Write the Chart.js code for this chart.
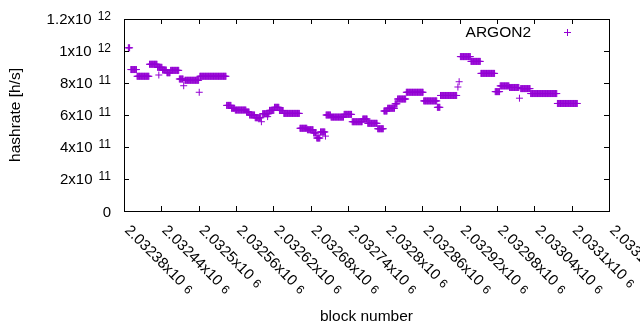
<!DOCTYPE html>
<html>
<head>
<meta charset="utf-8">
<script src="https://cdn.jsdelivr.net/npm/chart.js@4.4.1/dist/chart.umd.min.js"></script>
<style>
  html, body { margin: 0; padding: 0; background: #fff; }
  #wrap { width: 640px; height: 330px; }
</style>
</head>
<body>
<div id="wrap"><canvas id="hashChart" width="640" height="330"></canvas></div>
<script>
// runs of blocks with the same hashrate estimate (one point per block)
const runStart = [
  2032387, 2032391, 2032401, 2032421, 2032434, 2032436, 2032442, 2032449, 2032455, 2032469,
  2032476, 2032478, 2032501, 2032502, 2032545, 2032553, 2032559, 2032577, 2032582, 2032591,
  2032601, 2032603, 2032611, 2032614, 2032622, 2032630, 2032637, 2032663, 2032675, 2032685,
  2032690, 2032696, 2032704, 2032705, 2032713, 2032734, 2032747, 2032764, 2032772, 2032788,
  2032798, 2032804, 2032816, 2032820, 2032834, 2032862, 2032884, 2032889, 2032917, 2032919,
  2032921, 2032938, 2032954, 2032977, 2032985, 2033000, 2033016, 2033018, 2033034, 2033077
];
const runEnd = [
  2032389, 2032400, 2032420, 2032433, 2032441, 2032436, 2032448, 2032454, 2032468, 2032475,
  2032476, 2032500, 2032501, 2032544, 2032552, 2032558, 2032576, 2032581, 2032590, 2032600,
  2032601, 2032613, 2032611, 2032621, 2032629, 2032636, 2032662, 2032674, 2032684, 2032689,
  2032695, 2032703, 2032704, 2032712, 2032733, 2032746, 2032763, 2032771, 2032787, 2032797,
  2032803, 2032815, 2032819, 2032833, 2032861, 2032883, 2032888, 2032915, 2032917, 2032919,
  2032937, 2032953, 2032976, 2032984, 2032999, 2033015, 2033016, 2033033, 2033076, 2033109
];
const runHashrate = [
  1.02e12, 8.84e11, 8.42e11, 9.17e11, 8.98e11, 8.50e11, 8.81e11, 8.64e11, 8.79e11, 8.25e11,
  7.83e11, 8.17e11, 7.42e11, 8.42e11, 6.60e11, 6.42e11, 6.31e11, 6.19e11, 6.00e11, 5.83e11,
  5.58e11, 6.08e11, 5.90e11, 6.29e11, 6.48e11, 6.28e11, 6.10e11, 5.17e11, 5.08e11, 4.88e11,
  4.56e11, 4.94e11, 4.68e11, 6.00e11, 5.87e11, 6.04e11, 5.58e11, 5.75e11, 5.48e11, 5.14e11,
  6.25e11, 6.42e11, 6.70e11, 7.00e11, 7.42e11, 6.88e11, 6.48e11, 7.22e11, 7.75e11, 8.08e11,
  9.65e11, 9.35e11, 8.60e11, 7.46e11, 7.82e11, 7.72e11, 7.05e11, 7.65e11, 7.34e11, 6.72e11
];

const xTickValues = [
  2032380, 2032440, 2032500, 2032560, 2032620, 2032680, 2032740,
  2032800, 2032860, 2032920, 2032980, 2033040, 2033100, 2033160
];
const xTickLabels = [
  "2.03238x10^{6}", "2.03244x10^{6}", "2.0325x10^{6}", "2.03256x10^{6}", "2.03262x10^{6}",
  "2.03268x10^{6}", "2.03274x10^{6}", "2.0328x10^{6}", "2.03286x10^{6}", "2.03292x10^{6}",
  "2.03298x10^{6}", "2.03304x10^{6}", "2.0331x10^{6}", "2.03316x10^{6}"
];
const yTickValues = [0, 2e11, 4e11, 6e11, 8e11, 1e12, 1.2e12];
const yTickLabels = ["0", "2x10^{11}", "4x10^{11}", "6x10^{11}", "8x10^{11}", "1x10^{12}", "1.2x10^{12}"];

const seriesName = "ARGON2";
const xTitle = "block number";
const yTitle = "hashrate [h/s]";

const points = [];
for (let i = 0; i < runStart.length; i++) {
  for (let b = runStart[i]; b <= runEnd[i]; b++) {
    points.push({ x: b, y: runHashrate[i] });
  }
}

const FONT = "'Liberation Sans', Arial, sans-serif";
const PURPLE = "#9400d3";

function splitLabel(label) {
  const i = label.indexOf("^{");
  if (i < 0) return { main: label, sup: "" };
  return { main: label.slice(0, i), sup: label.slice(i + 2, label.length - 1) };
}

function drawCross(ctx, x, y, r) {
  ctx.beginPath();
  ctx.moveTo(x - r, y);
  ctx.lineTo(x + r, y);
  ctx.moveTo(x, y - r);
  ctx.lineTo(x, y + r);
  ctx.stroke();
}

// gnuplot style frame, ticks, labels and key
const gnuplotFrame = {
  id: "gnuplotFrame",
  afterDraw(chart) {
    const ctx = chart.ctx;
    const area = chart.chartArea;
    const xs = chart.scales.x;
    const ys = chart.scales.y;
    const tick = 5;

    ctx.save();
    ctx.strokeStyle = "#000";
    ctx.lineWidth = 1;
    ctx.strokeRect(area.left + 0.5, area.top + 0.5, area.right - area.left, area.bottom - area.top);

    ctx.beginPath();
    xTickValues.forEach((v) => {
      const px = Math.round(xs.getPixelForValue(v)) + 0.5;
      ctx.moveTo(px, area.bottom);
      ctx.lineTo(px, area.bottom - tick);
      ctx.moveTo(px, area.top);
      ctx.lineTo(px, area.top + tick);
    });
    yTickValues.forEach((v) => {
      const py = Math.round(ys.getPixelForValue(v)) + 0.5;
      ctx.moveTo(area.left, py);
      ctx.lineTo(area.left + tick, py);
      ctx.moveTo(area.right, py);
      ctx.lineTo(area.right - tick, py);
    });
    ctx.stroke();

    ctx.fillStyle = "#000";
    ctx.textBaseline = "alphabetic";
    ctx.textAlign = "left";

    // y tick labels
    const mainFont = "15px " + FONT;
    const supFont = "12px " + FONT;
    yTickValues.forEach((v, i) => {
      const py = ys.getPixelForValue(v);
      const lab = splitLabel(yTickLabels[i]);
      const rightEdge = area.left - 13;
      ctx.font = supFont;
      const supW = lab.sup ? ctx.measureText(lab.sup).width : 0;
      ctx.font = mainFont;
      const mainW = ctx.measureText(lab.main).width;
      if (lab.sup) {
        const supX = rightEdge - supW;
        ctx.fillText(lab.main, supX - 6 - mainW, py + 5);
        ctx.font = supFont;
        ctx.fillText(lab.sup, supX, py + 1);
      } else {
        ctx.fillText(lab.main, rightEdge - mainW, py + 6);
      }
    });

    // x tick labels, rotated clockwise
    xTickValues.forEach((v, i) => {
      const px = xs.getPixelForValue(v);
      const lab = splitLabel(xTickLabels[i]);
      ctx.save();
      ctx.translate(px, area.bottom + 20);
      ctx.rotate(Math.PI / 4);
      ctx.font = mainFont;
      const mainW = ctx.measureText(lab.main).width;
      ctx.fillText(lab.main, 0, 0);
      ctx.font = supFont;
      ctx.fillText(lab.sup, mainW + 5, 0);
      ctx.restore();
    });

    // axis titles
    ctx.font = "15.5px " + FONT;
    ctx.textAlign = "center";
    ctx.fillText(xTitle, (area.left + area.right) / 2, 321);
    ctx.save();
    ctx.translate(20, (area.top + area.bottom) / 2);
    ctx.rotate(-Math.PI / 2);
    ctx.fillText(yTitle, 0, 0);
    ctx.restore();

    // key
    ctx.textAlign = "right";
    ctx.fillText(seriesName, 531, 37);
    ctx.strokeStyle = PURPLE;
    drawCross(ctx, 567.5, 32.5, 3.5);

    ctx.restore();
  },
};

new Chart(document.getElementById("hashChart").getContext("2d"), {
  type: "scatter",
  data: {
    datasets: [
      {
        label: seriesName,
        data: points,
        pointStyle: "cross",
        pointRadius: 3.5,
        pointBorderWidth: 1,
        borderColor: PURPLE,
        backgroundColor: PURPLE,
        showLine: false,
      },
    ],
  },
  options: {
    responsive: false,
    animation: false,
    events: [],
    devicePixelRatio: 1,
    layout: { padding: { left: 124, right: 31, top: 19, bottom: 119 } },
    plugins: { legend: { display: false }, tooltip: { enabled: false } },
    scales: {
      x: {
        type: "linear",
        min: xTickValues[0],
        max: xTickValues[xTickValues.length - 1],
        ticks: { display: false },
        grid: { display: false },
        border: { display: false },
        afterFit: (scale) => { scale.height = 0; },
      },
      y: {
        type: "linear",
        min: yTickValues[0],
        max: yTickValues[yTickValues.length - 1],
        ticks: { display: false },
        grid: { display: false },
        border: { display: false },
        afterFit: (scale) => { scale.width = 0; },
      },
    },
  },
  plugins: [gnuplotFrame],
});
</script>
</body>
</html>
